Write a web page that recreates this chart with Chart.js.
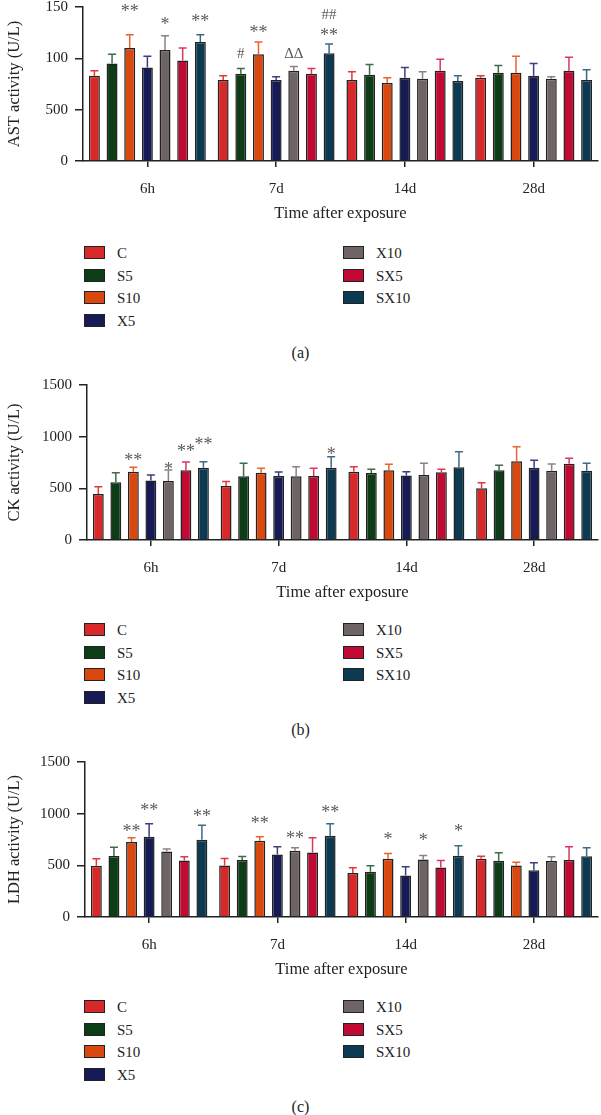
<!DOCTYPE html>
<html>
<head>
<meta charset="utf-8">
<script src="https://cdn.jsdelivr.net/npm/chart.js@4.4.1/dist/chart.umd.min.js"></script>
<style>
body { margin: 0; background: #fff; width: 601px; height: 1115px; position: relative; overflow: hidden; font-family: 'Liberation Serif', 'Times New Roman', serif; color: #222; }
canvas { position: absolute; left: 0; }
.key { position: absolute; height: 18px; line-height: 18px; font-size: 15px; }
.key span { position: absolute; left: 0; top: 2px; width: 21px; height: 13px; box-sizing: border-box; border: 1.5px solid #222; }
.key b { font-weight: normal; position: absolute; left: 33px; top: 0; white-space: nowrap; }
.tag { position: absolute; left: 0; width: 601px; text-align: center; font-size: 16px; line-height: 20px; }
</style>
</head>
<body>
<script>
const groups = ['6h', '7d', '14d', '28d'];
const series = ['C', 'S5', 'S10', 'X5', 'X10', 'SX5', 'SX10'];
const fills = ['#d7282a', '#0c3d17', '#d9480f', '#161a55', '#6e6464', '#c10a33', '#0c3a52'];
const whiskers = ['#e0383c', '#3f6b47', '#e8632e', '#3b3f7c', '#8c8282', '#d8385c', '#3d6a82'];

// y tick labels as printed (panel a really reads 0, 500, 100, 150)
const astTicks = ['0', '500', '100', '150'];
const ckTicks = ['0', '500', '1000', '1500'];
const ldhTicks = ['0', '500', '1000', '1500'];

// rows = series C..SX10, columns = 6h, 7d, 14d, 28d
const astMeans = [
  [83, 79, 79, 81],
  [95, 85, 84, 86],
  [110, 104, 76, 86],
  [91, 79, 81, 83],
  [108, 88, 80, 80],
  [98, 85, 88, 88],
  [116, 105, 78, 79]
];
const astSD = [
  [5, 4, 8, 2],
  [9, 5, 10, 7],
  [13, 12, 5, 16],
  [11, 3, 10, 12],
  [14, 4, 7, 2],
  [12, 5, 11, 13],
  [7, 9, 5, 10]
];
const ckMeans = [
  [445, 522, 661, 500],
  [558, 616, 648, 674],
  [661, 651, 674, 761],
  [575, 619, 623, 700],
  [571, 616, 629, 671],
  [674, 619, 655, 739],
  [700, 700, 703, 671]
];
const ckSD = [
  [71, 43, 49, 55],
  [93, 126, 36, 49],
  [42, 43, 58, 142],
  [55, 39, 38, 71],
  [106, 94, 113, 65],
  [81, 75, 29, 51],
  [58, 106, 152, 71]
];
const ldhMeans = [
  [495, 499, 427, 563],
  [590, 551, 437, 544],
  [725, 738, 563, 499],
  [777, 606, 402, 453],
  [635, 641, 557, 541],
  [547, 625, 479, 551],
  [748, 787, 593, 589]
];
const ldhSD = [
  [69, 68, 49, 26],
  [84, 35, 58, 78],
  [42, 39, 52, 32],
  [126, 74, 84, 72],
  [22, 29, 39, 42],
  [36, 142, 68, 129],
  [139, 116, 97, 81]
];

// [series, group, text, level]
const astMarks = [[2, 0, '**', 150], [4, 0, '*', 137], [6, 0, '**', 140], [1, 1, '#', 104], [2, 1, '**', 129], [4, 1, 'ΔΔ', 104], [6, 1, '##', 142], [6, 1, '**', 126]];
const ckMarks = [[2, 0, '**', 813], [4, 0, '*', 726], [5, 0, '**', 900], [6, 0, '**', 968], [6, 1, '*', 871]];
const ldhMarks = [[2, 0, '**', 868], [3, 0, '**', 1072], [6, 0, '**', 1013], [2, 1, '**', 942], [4, 1, '**', 797], [6, 1, '**', 1049], [2, 2, '*', 790], [4, 2, '*', 780], [6, 2, '*', 868]];

const panels = [
  { top: 7, bottom: 161, left: 83, title: 'AST activity (U/L)', max: 150, step: 50, ticks: astTicks, means: astMeans, sd: astSD, marks: astMarks, keyTop: 244, tag: '(a)', tagTop: 343 },
  { top: 385, bottom: 540, left: 87, title: 'CK activity (U/L)', max: 1500, step: 500, ticks: ckTicks, means: ckMeans, sd: ckSD, marks: ckMarks, keyTop: 621, tag: '(b)', tagTop: 720 },
  { top: 762, bottom: 917, left: 85, title: 'LDH activity (U/L)', max: 1500, step: 500, ticks: ldhTicks, means: ldhMeans, sd: ldhSD, marks: ldhMarks, keyTop: 998, tag: '(c)', tagTop: 1097 }
];

const serif = "'Liberation Serif', 'Times New Roman', serif";
const ink = '#222';

function makeChart(p) {
  const cv = document.createElement('canvas');
  cv.width = 601;
  cv.height = (p.bottom - p.top) + 7 + 69;
  cv.style.top = (p.top - 7) + 'px';
  document.body.appendChild(cv);

  const extras = {
    id: 'extras',
    afterDatasetsDraw(chart) {
      const ctx = chart.ctx, y = chart.scales.y;
      chart.data.datasets.forEach((ds, i) => {
        chart.getDatasetMeta(i).data.forEach((bar, j) => {
          const top = y.getPixelForValue(ds.data[j] + ds.sd[j]);
          ctx.save();
          ctx.strokeStyle = whiskers[i];
          ctx.lineWidth = 1.5;
          ctx.beginPath();
          ctx.moveTo(bar.x, bar.y);
          ctx.lineTo(bar.x, top);
          ctx.moveTo(bar.x - 4, top);
          ctx.lineTo(bar.x + 4, top);
          ctx.stroke();
          ctx.restore();
        });
      });
      ctx.save();
      ctx.fillStyle = '#5a5a5a';
      ctx.textAlign = 'center';
      ctx.textBaseline = 'middle';
      p.marks.forEach(([i, j, txt, lvl]) => {
        const bar = chart.getDatasetMeta(i).data[j];
        const star = txt.indexOf('*') >= 0;
        ctx.font = (star ? 18 : 15) + 'px ' + serif;
        ctx.fillText(txt, bar.x, y.getPixelForValue(lvl) + (star ? 5 : 0));
      });
      ctx.restore();
    }
  };

  new Chart(cv, {
    type: 'bar',
    data: {
      labels: groups,
      datasets: series.map((name, i) => ({
        label: name,
        data: p.means[i],
        sd: p.sd[i],
        backgroundColor: fills[i],
        borderColor: ink,
        borderWidth: 1.5,
        barPercentage: 0.62,
        categoryPercentage: 0.96
      }))
    },
    options: {
      responsive: false,
      animation: false,
      devicePixelRatio: 1,
      layout: { padding: { top: 7, left: 0, right: 3, bottom: 0 } },
      plugins: { legend: { display: false }, tooltip: { enabled: false } },
      scales: {
        x: {
          grid: { display: true, drawOnChartArea: false, drawTicks: true, tickLength: 6, offset: false, color: ink, lineWidth: 1.5 },
          border: { display: true, color: ink, width: 1.5 },
          ticks: { font: { family: serif, size: 15 }, color: ink, padding: 13, maxRotation: 0 },
          title: { display: true, text: 'Time after exposure', font: { family: serif, size: 16.5 }, color: ink, padding: { top: 0, bottom: 6 } },
          afterFit(s) { s.height = 69; s.paddingLeft = 0; s.paddingRight = 0; }
        },
        y: {
          min: 0,
          max: p.max,
          grid: { display: true, drawOnChartArea: false, drawTicks: true, tickLength: 8, color: ink, lineWidth: 1.5 },
          border: { display: true, color: ink, width: 1.5 },
          ticks: { stepSize: p.step, font: { family: serif, size: 15 }, color: ink, padding: 7, callback: (v, idx) => p.ticks[idx] },
          title: { display: true, text: p.title, font: { family: serif, size: 16.5 }, color: ink, padding: { top: 5, bottom: 0 } },
          afterFit(s) { s.width = p.left; s.paddingTop = 0; s.paddingBottom = 0; }
        }
      }
    },
    plugins: [extras]
  });

  // legend in two columns: four names left, three right
  series.forEach((name, i) => {
    const col = i < 4 ? 0 : 1;
    const row = i < 4 ? i : i - 4;
    const k = document.createElement('div');
    k.className = 'key';
    k.style.left = (col ? 343 : 84) + 'px';
    k.style.top = (p.keyTop + row * 22.7) + 'px';
    k.innerHTML = '<span style="background:' + fills[i] + '"></span><b>' + name + '</b>';
    document.body.appendChild(k);
  });
  const t = document.createElement('div');
  t.className = 'tag';
  t.style.top = p.tagTop + 'px';
  t.textContent = p.tag;
  document.body.appendChild(t);
}

panels.forEach(makeChart);
</script>
</body>
</html>
